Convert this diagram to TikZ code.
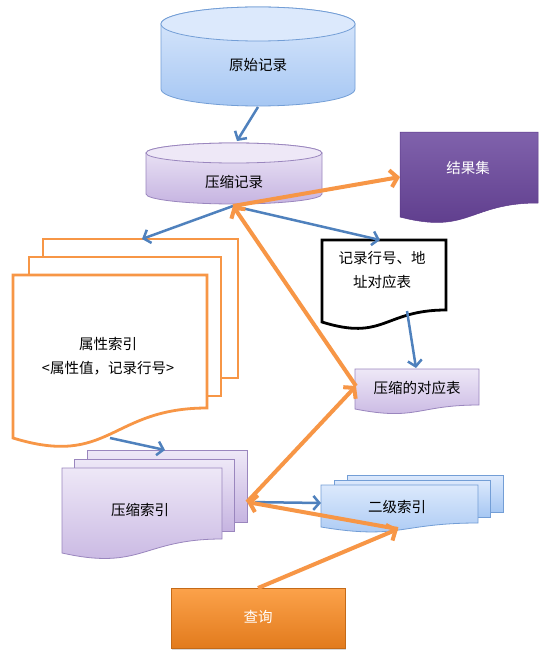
\documentclass[tikz,border=0pt]{standalone}
\usepackage{fontspec}
\setmainfont{Noto Sans CJK SC}
\usetikzlibrary{arrows.meta,shadows}

\definecolor{lineblue}{RGB}{79,129,189}
\definecolor{lineorange}{RGB}{247,150,70}
\definecolor{bluetop}{HTML}{DCE9FC}
\definecolor{bluebot}{HTML}{A6C7F3}
\definecolor{bluedraw}{HTML}{739ED6}
\definecolor{purpletop}{HTML}{EEE8F7}
\definecolor{purplebot}{HTML}{C6B4E1}
\definecolor{purpledraw}{HTML}{9A86BE}
\definecolor{darktop}{HTML}{8062AC}
\definecolor{darkbot}{HTML}{5C3A8A}
\definecolor{querytop}{HTML}{FCA24A}
\definecolor{querybot}{HTML}{E27B1D}
\definecolor{querydraw}{HTML}{C46A18}

\newcommand{\docshape}[6]{%
  \path[#1] (#2,#4) -- (#3,#4) -- (#3,#5)
    .. controls ({(#2+#3)/2},#5) and ({(#2+#3)/2},{#5+0.45*(#5-#4)}) .. (#2,#6) -- cycle;}

\begin{document}
\begin{tikzpicture}[x=1pt,y=-1pt]
  \tikzstyle{txt}=[font=\fontsize{14.5}{24}\selectfont, inner sep=0pt, align=center]
  \tikzstyle{bluearrow}=[draw=lineblue, line width=2.5pt, -{Straight Barb[length=6pt,width=14pt]}]
  \tikzstyle{orangearrow}=[draw=lineorange, line width=4pt, -{Straight Barb[length=7pt,width=17pt]}]
  \tikzstyle{bluecyl}=[draw=bluedraw, line width=0.8pt, top color=bluetop, bottom color=bluebot]
  \tikzstyle{bluecap}=[draw=bluedraw, line width=0.8pt, fill=bluetop]
  \tikzstyle{purplecyl}=[draw=purpledraw, line width=0.8pt, top color=purpletop, bottom color=purplebot]
  \tikzstyle{purplecap}=[draw=purpledraw, line width=0.8pt, fill=purpletop]
  \tikzstyle{darkdoc}=[draw=darkbot, line width=0.5pt, top color=darktop, bottom color=darkbot]
  \tikzstyle{attrsheet}=[draw=lineorange, line width=2.8pt, fill=white]
  \tikzstyle{addrdoc}=[draw=black, line width=2.8pt, fill=white]
  \tikzstyle{purplesheet}=[draw=purpledraw, line width=0.8pt, top color=purpletop, bottom color=purplebot]
  \tikzstyle{bluesheet}=[draw=bluedraw, line width=0.8pt, top color=bluetop, bottom color=bluebot]
  \tikzstyle{querybox}=[draw=querydraw, line width=0.8pt, top color=querytop, bottom color=querybot,
    drop shadow={opacity=0.3, shadow xshift=1pt, shadow yshift=-2pt}]

  \fill[white] (0,0) rectangle (545,658);
  \useasboundingbox (0,0) rectangle (545,658);

  \path[bluecyl] (161,24) -- (161,89) arc[start angle=180, end angle=0, x radius=97, y radius=17]
    -- (355,24) arc[start angle=0, end angle=-180, x radius=97, y radius=17] -- cycle;
  \path[bluecap] (258,24) ellipse [x radius=97, y radius=17];
  \node[txt] (orig) at (258,65) {原始记录};

  \path[purplecyl] (146,153) -- (146,194) arc[start angle=180, end angle=0, x radius=88, y radius=10]
    -- (322,153) arc[start angle=0, end angle=-180, x radius=88, y radius=10] -- cycle;
  \path[purplecap] (234,153) ellipse [x radius=88, y radius=10];
  \node[txt] (comp) at (234,182) {压缩记录};

  \docshape{darkdoc}{400}{538}{132}{203}{217}
  \node[txt, text=white] (res) at (468,168) {结果集};

  \path[attrsheet] (43,239) rectangle (238,378);
  \path[attrsheet] (29,257) rectangle (221,396);
  \docshape{attrsheet}{13}{207}{275}{408}{438}
  \node[txt] (attr) at (108,356) {属性索引\\<属性值，记录行号>};

  \docshape{addrdoc}{322}{446}{240}{310}{322}
  \node[txt] (addr) at (382,270) {记录行号、地\\址对应表};

  \docshape{purplesheet}{355}{479}{369}{405}{409}
  \node[txt] (ctab) at (417,388) {压缩的对应表};

  \path[purplesheet] (87,450) rectangle (247,522);
  \path[purplesheet] (74,459) rectangle (234,531);
  \docshape{purplesheet}{62}{222}{468}{539}{553}
  \node[txt] (cidx) at (140,510) {压缩索引};

  \path[bluesheet] (347,475) rectangle (503,512);
  \path[bluesheet] (334,480) rectangle (490,517);
  \docshape{bluesheet}{321}{478}{485}{523}{527}
  \node[txt] (sidx) at (397,507) {二级索引};

  \path[querybox] (171,588) rectangle (345,648);
  \node[txt, text=white] (query) at (258,617) {查询};

  \coordinate (orig-s) at (258,107);
  \coordinate (comp-n) at (237,141);
  \coordinate (comp-s) at (233,206);
  \coordinate (res-w) at (400,177);
  \coordinate (attr-n) at (142,239);
  \coordinate (attr-s) at (110,438);
  \coordinate (addr-n) at (380,240);
  \coordinate (addr-s) at (407,311);
  \coordinate (ctab-n) at (416,368);
  \coordinate (ctab-w) at (356,386);
  \coordinate (cidx-n) at (165,450);
  \coordinate (cidx-e) at (247,502);
  \coordinate (sidx-w) at (321,503);
  \coordinate (sidx-s) at (398,529);
  \coordinate (query-n) at (258,588);

  \draw[bluearrow] (orig-s) -- (comp-n);
  \draw[bluearrow] (comp-s) -- (attr-n);
  \draw[bluearrow] (comp-s) -- (addr-n);
  \draw[bluearrow] (addr-s) -- (ctab-n);
  \draw[bluearrow] (attr-s) -- (cidx-n);
  \draw[bluearrow, shorten <=8pt] (cidx-e) -- (sidx-w);

  \draw[orangearrow] (comp-s) -- (res-w);
  \draw[orangearrow] (ctab-w) -- (comp-s);
  \draw[orangearrow] (cidx-e) -- (ctab-w);
  \draw[orangearrow] (sidx-s) -- (cidx-e);
  \draw[orangearrow] (query-n) -- (sidx-s);
\end{tikzpicture}
\end{document}
